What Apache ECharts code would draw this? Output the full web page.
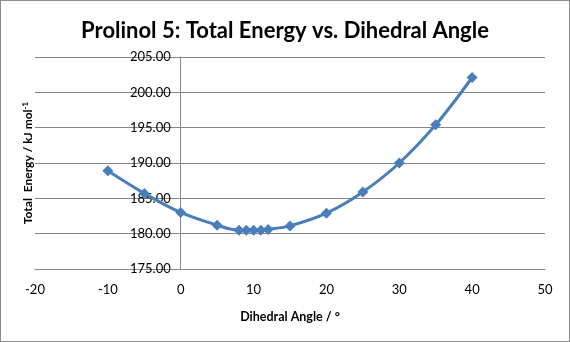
<!DOCTYPE html>
<html>
<head>
<meta charset="utf-8">
<script src="https://cdn.jsdelivr.net/npm/echarts@6/dist/echarts.min.js"></script>
<style>
  html, body { margin: 0; padding: 0; background: #fff; }
  #chart { width: 568px; height: 340px; border: 1px solid #8c8c8c; }
</style>
</head>
<body>
<div id="chart"></div>
<script>
// Dihedral scan of prolinol 5: angle (degrees) vs total energy (kJ/mol)
const angles = [-10, -5, 0, 5, 8, 9, 10, 11, 12, 15, 20, 25, 30, 35, 40];
const energies = [188.9, 185.7, 183.0, 181.2, 180.5, 180.5, 180.5, 180.5, 180.6, 181.1, 182.9, 185.9, 190.0, 195.4, 202.1];

const titleText = 'Prolinol 5: Total Energy vs. Dihedral Angle';
const xName = 'Dihedral Angle / °';

const points = angles.map((a, i) => [a, energies[i]]);
const fontFam = 'Lato, "Open Sans", sans-serif';

// plot box in pixels; the vertical axis crosses at angle 0
const gridLeft = 34, gridRight = 24;
const plotWidth = 570 - 2 - gridLeft - gridRight;
const zeroOffset = plotWidth * 20 / 70;

const chart = echarts.init(document.getElementById('chart'), null, { renderer: 'canvas' });
chart.setOption({
  animation: false,
  backgroundColor: '#ffffff',
  title: {
    text: titleText,
    left: 'center',
    top: 14,
    textStyle: { fontFamily: fontFam, fontSize: 22, fontWeight: 'bold', color: '#000' }
  },
  grid: { left: gridLeft, right: gridRight, top: 56, bottom: 72, containLabel: false, outerBoundsMode: 'none' },
  xAxis: {
    type: 'value',
    min: -20, max: 50, interval: 10,
    name: xName,
    nameLocation: 'middle',
    nameGap: 41,
    nameTextStyle: { fontFamily: fontFam, fontSize: 12.5, fontWeight: 'bold', color: '#000' },
    axisLine: { show: true, lineStyle: { color: '#868686', width: 1 } },
    axisTick: { show: false },
    axisLabel: { fontFamily: fontFam, fontSize: 13, color: '#000', margin: 14 },
    splitLine: { show: false }
  },
  yAxis: {
    type: 'value',
    min: 175, max: 205, interval: 5,
    name: 'Total  Energy / kJ mol{sup|-1}',
    nameLocation: 'middle',
    nameGap: 0,
    nameTextStyle: {
      fontFamily: fontFam, fontSize: 12, fontWeight: 'bold', color: '#000',
      rich: {
        sup: { fontFamily: fontFam, fontSize: 8, fontWeight: 'bold', color: '#000', verticalAlign: 'top', padding: [0, 0, 6, 0] }
      }
    },
    axisLine: { show: true, onZero: true, lineStyle: { color: '#868686', width: 1 } },
    axisTick: { show: false },
    axisLabel: {
      fontFamily: fontFam, fontSize: 13, color: '#000',
      margin: -(zeroOffset - 10),
      formatter: v => v.toFixed(2)
    },
    splitLine: { show: true, lineStyle: { color: '#868686', width: 1 } }
  },
  series: [{
    type: 'line',
    data: points,
    smooth: 0.35,
    symbol: 'diamond',
    symbolSize: 11,
    lineStyle: { color: '#4A7EBB', width: 3 },
    itemStyle: { color: '#4A7EBB' }
  }]
});
</script>
</body>
</html>
